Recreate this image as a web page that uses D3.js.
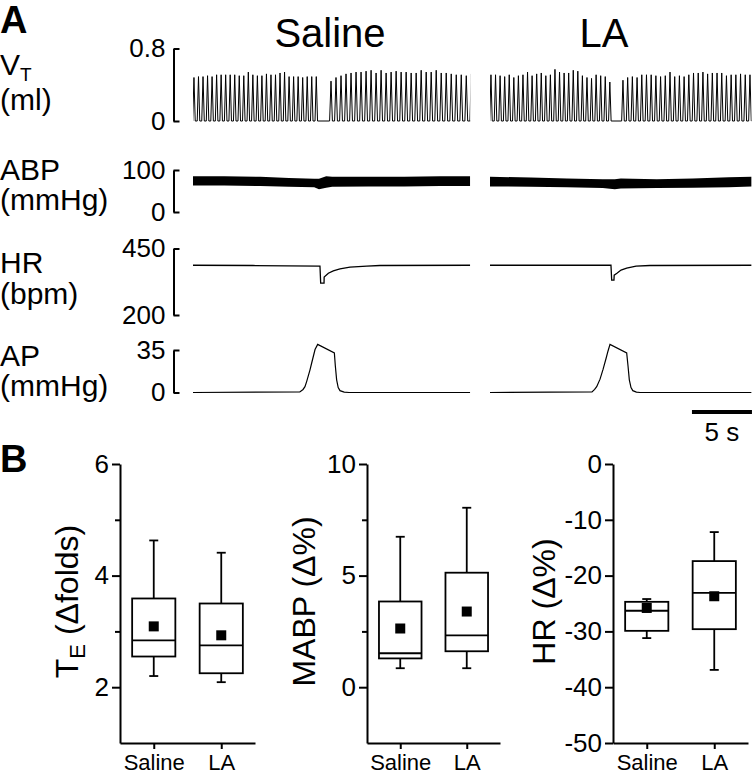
<!DOCTYPE html>
<html>
<head>
<meta charset="utf-8">
<script src="https://cdn.jsdelivr.net/npm/d3@7"></script>
<style>
  body { margin: 0; background: #fff; }
  svg { display: block; }
</style>
</head>
<body>
<div id="chart"></div>
<script>
// ---- Panel A: example recordings ---------------------------------
var CONDITIONS = ["Saline", "LA"];
var SEGMENT_DURATION = [23.1, 21.8];          // seconds shown per condition

// tidal volume: peak volume (ml) of each breath, two runs per condition split by the apnea
var VT_SALINE_RUN1 = [0.48, 0.49, 0.49, 0.50, 0.49, 0.51, 0.51, 0.51, 0.51, 0.51, 0.50, 0.50, 0.54, 0.51,
                      0.50, 0.50, 0.52, 0.51, 0.51, 0.53, 0.54, 0.49, 0.49, 0.49, 0.48, 0.49, 0.49, 0.49];
var VT_SALINE_RUN2 = [0.44, 0.48, 0.50, 0.52, 0.53, 0.54, 0.54, 0.55, 0.56, 0.53, 0.56, 0.53, 0.54, 0.55,
                      0.54, 0.54, 0.53, 0.53, 0.56, 0.54, 0.54, 0.56, 0.53, 0.53, 0.52, 0.51, 0.51, 0.50, 0.52];
var VT_LA_RUN1 = [0.51, 0.51, 0.50, 0.49, 0.51, 0.48, 0.50, 0.51, 0.54, 0.50, 0.52, 0.53, 0.50, 0.51,
                  0.57, 0.54, 0.53, 0.53, 0.56, 0.55, 0.50, 0.48, 0.47, 0.51, 0.50, 0.49, 0.43];
var VT_LA_RUN2 = [0.45, 0.48, 0.49, 0.48, 0.51, 0.51, 0.51, 0.50, 0.49, 0.50, 0.54, 0.49, 0.50, 0.49,
                  0.51, 0.53, 0.53, 0.54, 0.52, 0.53, 0.53, 0.53, 0.50, 0.51, 0.51, 0.52, 0.51, 0.51];
var VT_RUN_START = [[0.08, 11.5], [0.08, 11.08]];       // time of first peak of each run (s)
var VT_RUN_PERIOD = [[0.3775, 0.4175], [0.381, 0.392]]; // breath period of each run (s)

// arterial blood pressure envelope (mmHg)
var ABP_TIME_SAL = [0, 2.6, 5.6, 8.0, 10.1, 10.5, 10.8, 11.1, 11.6, 14.6, 17.6, 20.6, 23.1];
var ABP_SYS_SAL  = [85, 85, 84, 81, 79, 79, 82, 85, 84, 84, 84, 85, 85];
var ABP_DIA_SAL  = [63, 63, 62, 60, 59, 54, 56, 58, 60, 61, 61, 62, 62];
var ABP_TIME_LA  = [0, 3.4, 6.4, 9.4, 10.4, 10.9, 13.9, 16.9, 19.9, 21.8];
var ABP_SYS_LA   = [84, 82, 80, 78, 78, 80, 78, 80, 83, 84];
var ABP_DIA_LA   = [61, 60, 59, 57, 54, 56, 57, 58, 59, 61];

// heart rate (bpm)
var HR_TIME_SAL = [0, 5, 10.58, 10.64, 10.92, 10.93, 11.28, 11.69, 12.25, 13.08, 14.48, 15.58, 23.1];
var HR_SAL      = [387, 386, 384, 320, 320, 343, 357, 366, 373, 380, 384, 386, 387];
var HR_TIME_LA  = [0, 10.08, 10.14, 10.33, 10.35, 10.58, 10.92, 11.39, 12.17, 13.33, 21.8];
var HR_LA       = [387, 387, 331, 331, 350, 357, 369, 376, 384, 386, 387];

// airway pressure (mmHg)
var AP_TIME_SAL = [0, 8.9, 9.17, 9.33, 9.47, 9.75, 9.89, 10.17, 10.39, 11.78, 11.86, 11.97, 12.1, 12.25, 12.6, 13.0, 23.1];
var AP_SAL      = [0, 0.5, 2.5, 4.8, 9, 18.7, 24.3, 35.4, 39.6, 32.6, 22, 10.4, 4, 1.5, 0.3, 0, 0];
var AP_TIME_LA  = [0, 8.5, 8.72, 8.89, 9.17, 9.42, 9.67, 9.83, 10.0, 11.39, 11.5, 11.61, 11.75, 11.9, 12.2, 12.5, 21.8];
var AP_LA       = [0, 0.5, 2.5, 4.8, 11, 19, 28, 34, 39.6, 32.6, 22, 10.4, 4, 1.5, 0.3, 0, 0];

var SCALEBAR_START = 16.83; // s, on the LA time axis
var SCALEBAR_LEN = 5;

// ---- Panel B: group summaries ------------------------------------
var GROUPS = ["Saline", "LA"];

var TE_LOW = [2.2, 2.09],  TE_Q1 = [2.55, 2.25], TE_MED = [2.84, 2.75];
var TE_Q3 = [3.59, 3.5],   TE_HIGH = [4.63, 4.41], TE_MEAN = [3.09, 2.93];

var MABP_LOW = [0.85, 0.85], MABP_Q1 = [1.29, 1.61], MABP_MED = [1.52, 2.32];
var MABP_Q3 = [3.84, 5.13],  MABP_HIGH = [6.74, 8.04], MABP_MEAN = [2.63, 3.39];

var HRB_LOW = [-31.2, -36.9], HRB_Q1 = [-29.9, -29.6], HRB_MED = [-26.3, -23.1];
var HRB_Q3 = [-24.7, -17.4],  HRB_HIGH = [-24.2, -12.2], HRB_MEAN = [-25.8, -23.7];

var TE_TICKS = [2, 4, 6],   TE_MINOR = [3, 5];
var MABP_TICKS = [0, 5, 10], MABP_MINOR = [2.5, 7.5];
var HRB_TICKS = [-50, -40, -30, -20, -10, 0];

// -----------------------------------------------------------------
var FONT = "'Liberation Sans', Arial, Helvetica, sans-serif";
var W = 753, H = 774;

var svg = d3.select("#chart").append("svg")
  .attr("width", W).attr("height", H)
  .style("font-family", FONT);

// panel letters
svg.append("text").attr("x", 0).attr("y", 33).attr("font-size", 38).attr("font-weight", "bold").text("A");
svg.append("text").attr("x", 0).attr("y", 472).attr("font-size", 38).attr("font-weight", "bold").text("B");

// condition titles
svg.append("text").attr("x", 330).attr("y", 47).attr("font-size", 40).attr("text-anchor", "middle").text("Saline");
svg.append("text").attr("x", 604).attr("y", 47).attr("font-size", 40).attr("text-anchor", "middle").text("LA");

// row labels
var vt = svg.append("text").attr("x", 0).attr("y", 75).attr("font-size", 30);
vt.append("tspan").text("V");
vt.append("tspan").attr("font-size", 19).attr("dy", 6).text("T");
var rowLabels = [["(ml)", 110], ["ABP", 180], ["(mmHg)", 210], ["HR", 273], ["(bpm)", 304], ["AP", 366], ["(mmHg)", 396]];
rowLabels.forEach(function (r) {
  svg.append("text").attr("x", 0).attr("y", r[1]).attr("font-size", 30).text(r[0]);
});

// trace scales
var xSeg = [
  d3.scaleLinear().domain([0, SEGMENT_DURATION[0]]).range([193, 193 + SEGMENT_DURATION[0] * 12]),
  d3.scaleLinear().domain([0, SEGMENT_DURATION[1]]).range([490, 490 + SEGMENT_DURATION[1] * 12])
];
var yVT = d3.scaleLinear().domain([0, 0.8]).range([121, 48.5]);
var yABP = d3.scaleLinear().domain([0, 100]).range([212, 170]);
var yHR = d3.scaleLinear().domain([200, 450]).range([315, 248.5]);
var yAP = d3.scaleLinear().domain([0, 35]).range([392.5, 350]);

// bracket scale bars on the left
[yVT, yABP, yHR, yAP].forEach(function (y) {
  var g = svg.append("g").attr("transform", "translate(173.5,0)")
    .call(d3.axisLeft(y).tickValues(y.domain()).tickSize(-6).tickSizeOuter(0).tickPadding(8)
      .tickFormat(d3.format("~g")));
  g.select(".domain").attr("stroke-width", 2);
  g.selectAll(".tick line").attr("stroke-width", 2);
  g.selectAll(".tick text").attr("font-size", 26).attr("font-family", FONT).attr("fill", "#000");
});

var vtRuns = [[VT_SALINE_RUN1, VT_SALINE_RUN2], [VT_LA_RUN1, VT_LA_RUN2]];
var abp = [[ABP_TIME_SAL, ABP_SYS_SAL, ABP_DIA_SAL], [ABP_TIME_LA, ABP_SYS_LA, ABP_DIA_LA]];
var hr = [[HR_TIME_SAL, HR_SAL], [HR_TIME_LA, HR_LA]];
var ap = [[AP_TIME_SAL, AP_SAL], [AP_TIME_LA, AP_LA]];

CONDITIONS.forEach(function (c, ci) {
  var x = xSeg[ci];
  var clipId = "clip" + ci;
  svg.append("clipPath").attr("id", clipId).append("rect")
    .attr("x", x.range()[0]).attr("y", 0)
    .attr("width", x.range()[1] - x.range()[0]).attr("height", 420);
  var g = svg.append("g").attr("clip-path", "url(#" + clipId + ")");

  // tidal volume: one spike per breath
  var pts = [[0, 0]];
  vtRuns[ci].forEach(function (amps, ri) {
    var t0 = VT_RUN_START[ci][ri], p = VT_RUN_PERIOD[ci][ri];
    amps.forEach(function (a, i) {
      var tp = t0 + i * p;
      pts.push([tp - 0.28 * p, 0], [tp, a], [tp + 0.28 * p, 0]);
    });
  });
  pts.push([SEGMENT_DURATION[ci], 0]);
  g.append("path")
    .attr("d", d3.line().x(function (d) { return x(d[0]); }).y(function (d) { return yVT(d[1]); })(pts))
    .attr("fill", "none").attr("stroke", "#000").attr("stroke-width", 1);

  // blood pressure band
  var a = abp[ci];
  g.append("path")
    .datum(a[0].map(function (t, i) { return { t: t, s: a[1][i], d: a[2][i] }; }))
    .attr("d", d3.area().x(function (d) { return x(d.t); })
      .y0(function (d) { return yABP(d.d); }).y1(function (d) { return yABP(d.s); }))
    .attr("fill", "#000");

  // heart rate
  var h = hr[ci];
  g.append("path")
    .datum(h[0].map(function (t, i) { return [t, h[1][i]]; }))
    .attr("d", d3.line().x(function (d) { return x(d[0]); }).y(function (d) { return yHR(d[1]); }))
    .attr("fill", "none").attr("stroke", "#000").attr("stroke-width", 1.3);

  // airway pressure
  var q = ap[ci];
  g.append("path")
    .datum(q[0].map(function (t, i) { return [t, q[1][i]]; }))
    .attr("d", d3.line().x(function (d) { return x(d[0]); }).y(function (d) { return yAP(d[1]); }))
    .attr("fill", "none").attr("stroke", "#000").attr("stroke-width", 1.2);
});

// time scale bar
svg.append("line")
  .attr("x1", xSeg[1](SCALEBAR_START)).attr("x2", xSeg[1](SCALEBAR_START + SCALEBAR_LEN))
  .attr("y1", 412).attr("y2", 412)
  .attr("stroke", "#000").attr("stroke-width", 4);
svg.append("text")
  .attr("x", xSeg[1](SCALEBAR_START + SCALEBAR_LEN / 2)).attr("y", 441)
  .attr("text-anchor", "middle").attr("font-size", 26).text("5 s");

// ---- Panel B box plots -------------------------------------------
var plots = [
  { left: 120, right: 255, domain: [1, 6], ticks: TE_TICKS, minor: TE_MINOR, labelX: 78,
    low: TE_LOW, q1: TE_Q1, med: TE_MED, q3: TE_Q3, high: TE_HIGH, mean: TE_MEAN, label: "TE" },
  { left: 367, right: 500, domain: [-2.5, 10], ticks: MABP_TICKS, minor: MABP_MINOR, labelX: 315,
    low: MABP_LOW, q1: MABP_Q1, med: MABP_MED, q3: MABP_Q3, high: MABP_HIGH, mean: MABP_MEAN, label: "MABP (Δ%)" },
  { left: 613, right: 748, domain: [-50, 0], ticks: HRB_TICKS, minor: [], labelX: 555,
    low: HRB_LOW, q1: HRB_Q1, med: HRB_MED, q3: HRB_Q3, high: HRB_HIGH, mean: HRB_MEAN, label: "HR (Δ%)" }
];
var TOP = 464, BOTTOM = 743;

plots.forEach(function (p) {
  var y = d3.scaleLinear().domain(p.domain).range([BOTTOM, TOP]);
  var x = d3.scalePoint().domain(GROUPS).range([p.left, p.right]).padding(0.5);
  var bw = x.step() * 0.64;

  var gy = svg.append("g").attr("transform", "translate(" + p.left + ",0)")
    .call(d3.axisLeft(y).tickValues(p.ticks).tickSize(8).tickSizeOuter(0).tickPadding(3)
      .tickFormat(d3.format("~g")));
  gy.select(".domain").attr("stroke-width", 2);
  gy.selectAll(".tick line").attr("stroke-width", 2);
  gy.selectAll(".tick text").attr("font-size", 26).attr("font-family", FONT).attr("fill", "#000")
    .text(function (d) { return String(d); });

  if (p.minor.length) {
    var gm = svg.append("g").attr("transform", "translate(" + p.left + ",0)")
      .call(d3.axisLeft(y).tickValues(p.minor).tickSize(5).tickSizeOuter(0).tickFormat(""));
    gm.select(".domain").remove();
    gm.selectAll(".tick line").attr("stroke-width", 2);
  }

  var gx = svg.append("g").attr("transform", "translate(0," + BOTTOM + ")")
    .call(d3.axisBottom(x).tickSize(6).tickSizeOuter(0).tickPadding(5));
  gx.select(".domain").attr("stroke-width", 2);
  gx.selectAll(".tick line").attr("stroke-width", 2);
  gx.selectAll(".tick text").attr("font-size", 22).attr("font-family", FONT).attr("fill", "#000");

  // axis title
  var t = svg.append("text")
    .attr("transform", "translate(" + p.labelX + "," + ((TOP + BOTTOM) / 2 - 2) + ") rotate(-90)")
    .attr("text-anchor", "middle").attr("font-size", 32);
  if (p.label === "TE") {
    t.append("tspan").text("T");
    t.append("tspan").attr("font-size", 22).attr("dy", 7).text("E");
    t.append("tspan").attr("dy", -7).text(" (Δfolds)");
  } else {
    t.text(p.label);
  }

  GROUPS.forEach(function (gname, i) {
    var cx = x(gname);
    var g = svg.append("g").attr("stroke", "#000").attr("stroke-width", 1.8);
    // whiskers
    g.append("line").attr("x1", cx).attr("x2", cx).attr("y1", y(p.q3[i])).attr("y2", y(p.high[i]));
    g.append("line").attr("x1", cx).attr("x2", cx).attr("y1", y(p.q1[i])).attr("y2", y(p.low[i]));
    g.append("line").attr("x1", cx - 4.5).attr("x2", cx + 4.5).attr("y1", y(p.high[i])).attr("y2", y(p.high[i]));
    g.append("line").attr("x1", cx - 4.5).attr("x2", cx + 4.5).attr("y1", y(p.low[i])).attr("y2", y(p.low[i]));
    // box
    g.append("rect").attr("x", cx - bw / 2).attr("width", bw)
      .attr("y", y(p.q3[i])).attr("height", y(p.q1[i]) - y(p.q3[i]))
      .attr("fill", "#fff");
    g.append("line").attr("x1", cx - bw / 2).attr("x2", cx + bw / 2)
      .attr("y1", y(p.med[i])).attr("y2", y(p.med[i]));
    // mean
    svg.append("rect").attr("x", cx - 5).attr("y", y(p.mean[i]) - 5)
      .attr("width", 10).attr("height", 10).attr("fill", "#000");
  });
});
</script>
</body>
</html>
